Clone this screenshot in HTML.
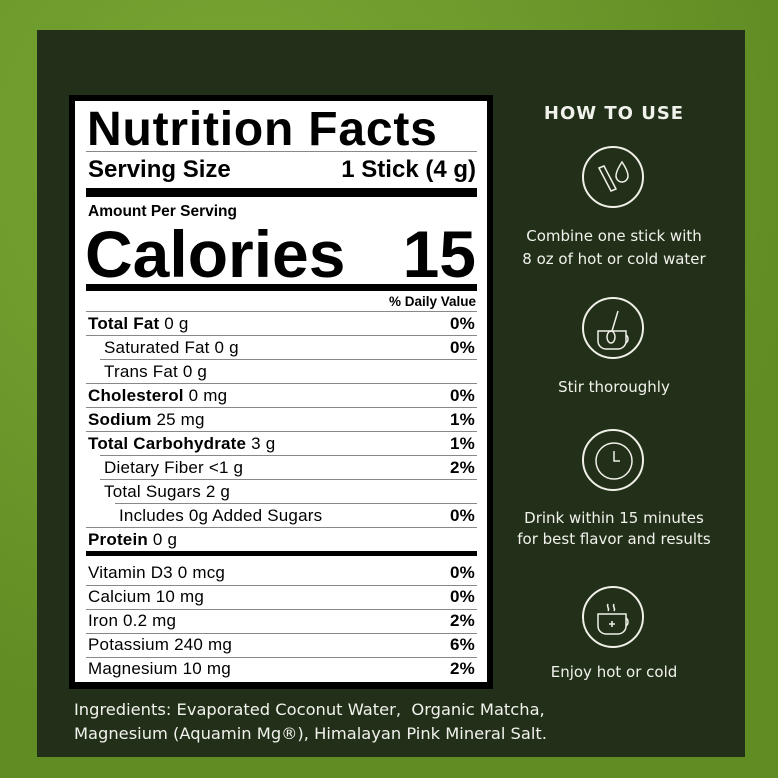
<!DOCTYPE html>
<html><head><meta charset="utf-8"><style>
*{margin:0;padding:0;box-sizing:border-box}
body{width:778px;height:778px;overflow:hidden;background:#6d9b2c;position:relative;font-family:"Liberation Sans",Arial,sans-serif}
.bg{position:absolute;inset:0;background:radial-gradient(circle at 30% 20%,#7aa834,#5f8d24 70%)}
.panel{position:absolute;left:37px;top:30px;width:708px;height:727px;background:#22301a}
.frame{position:absolute;left:69px;top:95px;width:424px;height:594px;background:#000}
.label{position:absolute;left:75px;top:101px;width:412px;height:581px;background:#fff}
.t{position:absolute;color:#000;white-space:nowrap;line-height:1}
.b{font-weight:bold}
.hl{position:absolute;left:86px;width:391px;background:#000}
.row{position:absolute;left:88px;width:389px;height:24px;font-size:17px;letter-spacing:0.2px;line-height:24px;color:#000}
.row .p{position:absolute;right:2px;top:0;font-weight:bold}
.w{position:absolute;color:#f2f2ec;white-space:nowrap;text-align:center;font-family:"DejaVu Sans","Liberation Sans",sans-serif}
.ic{position:absolute;width:62px;height:62px;border:2px solid #f0f0e8;border-radius:50%}
</style></head><body>
<div class="bg"></div>
<div class="panel"></div>
<div class="frame"></div>
<div class="label"></div>
<div class="t b" style="left:87px;top:106px;font-size:48px;letter-spacing:0.8px">Nutrition Facts</div>
<div class="hl" style="top:151px;height:1px;background:#888"></div>
<div class="t b" style="left:88px;top:158px;font-size:24px">Serving Size</div>
<div class="t b" style="right:302px;top:158px;font-size:24px">1 Stick (4 g)</div>
<div class="hl" style="top:188px;height:9px"></div>
<div class="t b" style="left:88px;top:204px;font-size:15.5px">Amount Per Serving</div>
<div class="t b" style="left:85px;top:221px;font-size:66px;letter-spacing:0px">Calories</div>
<div class="t b" style="right:302px;top:221px;font-size:66px">15</div>
<div class="hl" style="top:284px;height:7px"></div>
<div class="t b" style="right:302px;top:295px;font-size:13.5px">% Daily Value</div>
<div class="hl" style="top:311px;height:1px;background:#888"></div>

<div class="row" style="top:312px"><b>Total Fat</b> 0 g<span class="p">0%</span></div>
<div class="hl" style="top:335px;height:1px;background:#888"></div>
<div class="row" style="top:336px;padding-left:16px">Saturated Fat 0 g<span class="p">0%</span></div>
<div class="hl" style="top:359px;left:100px;width:377px;height:1px;background:#888"></div>
<div class="row" style="top:360px;padding-left:16px">Trans Fat 0 g</div>
<div class="hl" style="top:383px;height:1px;background:#888"></div>
<div class="row" style="top:384px"><b>Cholesterol</b> 0 mg<span class="p">0%</span></div>
<div class="hl" style="top:407px;height:1px;background:#888"></div>
<div class="row" style="top:408px"><b>Sodium</b> 25 mg<span class="p">1%</span></div>
<div class="hl" style="top:431px;height:1px;background:#888"></div>
<div class="row" style="top:432px"><b>Total Carbohydrate</b> 3 g<span class="p">1%</span></div>
<div class="hl" style="top:455px;left:100px;width:377px;height:1px;background:#888"></div>
<div class="row" style="top:456px;padding-left:16px">Dietary Fiber &lt;1 g<span class="p">2%</span></div>
<div class="hl" style="top:479px;left:100px;width:377px;height:1px;background:#888"></div>
<div class="row" style="top:480px;padding-left:16px">Total Sugars 2 g</div>
<div class="hl" style="top:503px;left:115px;width:362px;height:1px;background:#888"></div>
<div class="row" style="top:504px;padding-left:31px">Includes 0g Added Sugars<span class="p">0%</span></div>
<div class="hl" style="top:527px;height:1px;background:#888"></div>
<div class="row" style="top:528px"><b>Protein</b> 0 g</div>
<div class="hl" style="top:551px;height:5px"></div>
<div class="row" style="top:561px">Vitamin D3 0 mcg<span class="p">0%</span></div>
<div class="hl" style="top:585px;height:1px;background:#888"></div>
<div class="row" style="top:585px">Calcium 10 mg<span class="p">0%</span></div>
<div class="hl" style="top:609px;height:1px;background:#888"></div>
<div class="row" style="top:609px">Iron 0.2 mg<span class="p">2%</span></div>
<div class="hl" style="top:633px;height:1px;background:#888"></div>
<div class="row" style="top:633px">Potassium 240 mg<span class="p">6%</span></div>
<div class="hl" style="top:657px;height:1px;background:#888"></div>
<div class="row" style="top:657px">Magnesium 10 mg<span class="p">2%</span></div>

<div class="w" style="left:74px;top:698px;font-size:16.3px;text-align:left;line-height:24px">Ingredients: Evaporated Coconut Water,&nbsp; Organic Matcha,<br>Magnesium (Aquamin Mg®), Himalayan Pink Mineral Salt.</div>

<div class="w b" style="left:514px;width:200px;top:103px;font-size:18px;font-weight:bold;letter-spacing:1px">HOW TO USE</div>
<div class="ic" style="left:582px;top:146px"></div>
<div class="ic" style="left:582px;top:297px"></div>
<div class="ic" style="left:582px;top:429px"></div>
<div class="ic" style="left:582px;top:586px"></div>
<svg style="position:absolute;left:582px;top:146px" width="64" height="64" viewBox="0 0 64 64" fill="none" stroke="#f0f0e8" stroke-width="1.5">
<path d="M17 22 L22 20 L34 43 L29 45 Z"/><path d="M40 16 C44 22 46 26 46 30 A6 6 0 0 1 34 30 C34 26 36 22 40 16Z"/></svg>
<svg style="position:absolute;left:582px;top:297px" width="64" height="64" viewBox="0 0 64 64" fill="none" stroke="#f0f0e8" stroke-width="1.5">
<path d="M16 34 H44 V44 A8 8 0 0 1 36 52 H24 A8 8 0 0 1 16 44 Z"/><path d="M44 38 A5 5 0 0 1 44 46"/><path d="M36 14 L30 34"/><ellipse cx="29" cy="40" rx="4" ry="6"/></svg>
<svg style="position:absolute;left:582px;top:429px" width="64" height="64" viewBox="0 0 64 64" fill="none" stroke="#f0f0e8" stroke-width="1.5">
<circle cx="32" cy="32" r="18"/><path d="M32 22 V32 H38"/></svg>
<svg style="position:absolute;left:582px;top:586px" width="64" height="64" viewBox="0 0 64 64" fill="none" stroke="#f0f0e8" stroke-width="1.5">
<path d="M16 28 H44 V40 A8 8 0 0 1 36 48 H24 A8 8 0 0 1 16 40 Z"/><path d="M44 32 A5 5 0 0 1 44 40"/><path d="M26 18 C24 21 28 22 26 25 M32 18 C30 21 34 22 32 25"/><path d="M27 38 H33 M30 35 V41"/></svg>

<div class="w" style="left:504px;width:220px;top:225px;font-size:15px;line-height:23px">Combine one stick with<br>8 oz of hot or cold water</div>
<div class="w" style="left:504px;width:220px;top:378px;font-size:15px">Stir thoroughly</div>
<div class="w" style="left:504px;width:220px;top:508px;font-size:15px;line-height:21px">Drink within 15 minutes<br>for best flavor and results</div>
<div class="w" style="left:504px;width:220px;top:663px;font-size:15px">Enjoy hot or cold</div>
</body></html>
